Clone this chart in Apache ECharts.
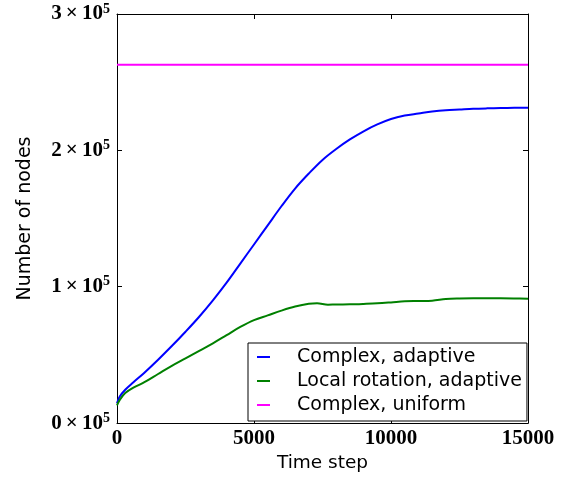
<!DOCTYPE html>
<html>
<head>
<meta charset="utf-8">
<script src="https://cdn.jsdelivr.net/npm/echarts@6/dist/echarts.min.js"></script>
<style>html,body{margin:0;padding:0;background:#fff}#c{width:570px;height:478px}</style>
</head>
<body>
<div id="c"></div>
<script>
var blueSteps = [0, 100, 300, 600, 1000, 1500, 2000, 2500, 3000, 3500, 4000, 4500, 5000, 5500, 6000, 6500, 7000, 7500, 8000, 8500, 9000, 9500, 10000, 10500, 11000, 11500, 12000, 12500, 13000, 13500, 14000, 14500, 15000];
var complexAdaptive = [14500, 19500, 24500, 30000, 37000, 46500, 56500, 67000, 78000, 90000, 103000, 117000, 131000, 145000, 159000, 172000, 183000, 193000, 201000, 208000, 214000, 219000, 223000, 225500, 227000, 228500, 229500, 230000, 230500, 230800, 231000, 231200, 231300];
var greenSteps = [0, 100, 300, 600, 1000, 1500, 2000, 2500, 3000, 3500, 4000, 4500, 5000, 5500, 6000, 6500, 7000, 7300, 7700, 8000, 8500, 9000, 9500, 10000, 10500, 11000, 11500, 12000, 12500, 13000, 13500, 14000, 14500, 15000];
var localRotationAdaptive = [13000, 17000, 22000, 26000, 30000, 36000, 42000, 47500, 53000, 58500, 64500, 70500, 75500, 79000, 82500, 85500, 87500, 87800, 86800, 87000, 87100, 87400, 87800, 88500, 89300, 89500, 89700, 91000, 91400, 91500, 91500, 91500, 91400, 91200];
var uniformSteps = [0, 15000];
var complexUniform = [262700, 262700];
var seriesNames = ['Complex, adaptive', 'Local rotation, adaptive', 'Complex, uniform'];
var xTicks = [0, 5000, 10000, 15000];
var yTicks = [0, 100000, 200000, 300000];

function pairs(xs, ys) { return xs.map(function (x, i) { return [x, ys[i]]; }); }

var chart = echarts.init(document.getElementById('c'), null, { renderer: 'canvas' });
var tickFont = 'Liberation Serif';
var sansFont = 'DejaVu Sans';
var axisCommon = {
  type: 'value',
  axisLine: { show: true, onZero: false, lineStyle: { color: '#000', width: 1 } },
  axisTick: { show: true, inside: true, length: 5, lineStyle: { color: '#000', width: 1 } },
  splitLine: { show: false }
};
var lineCommon = { type: 'line', smooth: 0.35, showSymbol: false, symbol: 'none' };
chart.setOption({
  animation: false,
  backgroundColor: '#fff',
  grid: { left: 117, right: 42, top: 14, bottom: 53 },
  legend: {
    data: seriesNames.map(function (n) { return { name: n, icon: 'rect' }; }),
    orient: 'vertical',
    left: 248,
    top: 343,
    itemWidth: 13,
    itemHeight: 2,
    itemGap: 4,
    padding: [4, 5, 6, 9],
    borderColor: '#000',
    borderWidth: 1,
    backgroundColor: '#fff',
    textStyle: { fontFamily: sansFont, fontSize: 19, color: '#000', lineHeight: 20, padding: [0, 0, 0, 22] }
  },
  xAxis: [
    Object.assign({}, axisCommon, {
      min: xTicks[0], max: xTicks[xTicks.length - 1], interval: 5000, position: 'bottom',
      name: 'Time step', nameLocation: 'middle', nameGap: 30,
      nameTextStyle: { fontFamily: sansFont, fontSize: 18.5, color: '#000' },
      axisLabel: { margin: 5, fontFamily: tickFont, fontWeight: 'bold', fontSize: 21, color: '#000',
        formatter: function (v) { return String(v); } }
    }),
    Object.assign({}, axisCommon, {
      min: xTicks[0], max: xTicks[xTicks.length - 1], interval: 5000, position: 'top',
      axisLabel: { show: false }
    })
  ],
  yAxis: [
    Object.assign({}, axisCommon, {
      min: yTicks[0], max: yTicks[yTicks.length - 1], interval: 100000, position: 'left',
      name: 'Number of nodes', nameLocation: 'middle', nameGap: 82,
      nameTextStyle: { fontFamily: sansFont, fontSize: 19, color: '#000' },
      axisLabel: {
        margin: 7,
        formatter: function (v) { return '{b|' + (v / 100000) + '\u2009\u00d7\u200910}{s|5}'; },
        rich: {
          b: { fontFamily: tickFont, fontWeight: 'bold', fontSize: 21, color: '#000', lineHeight: 24 },
          s: { fontFamily: tickFont, fontWeight: 'bold', fontSize: 14, color: '#000', lineHeight: 14, verticalAlign: 'top' }
        }
      }
    }),
    Object.assign({}, axisCommon, {
      min: yTicks[0], max: yTicks[yTicks.length - 1], interval: 100000, position: 'right',
      axisLabel: { show: false }
    })
  ],
  series: [
    Object.assign({}, lineCommon, { name: seriesNames[0], data: pairs(blueSteps, complexAdaptive), lineStyle: { color: '#0000ff', width: 2 }, itemStyle: { color: '#0000ff' } }),
    Object.assign({}, lineCommon, { name: seriesNames[1], data: pairs(greenSteps, localRotationAdaptive), lineStyle: { color: '#008000', width: 2 }, itemStyle: { color: '#008000' } }),
    Object.assign({}, lineCommon, { name: seriesNames[2], data: pairs(uniformSteps, complexUniform), smooth: false, lineStyle: { color: '#ff00ff', width: 2 }, itemStyle: { color: '#ff00ff' } })
  ]
});
</script>
</body>
</html>
